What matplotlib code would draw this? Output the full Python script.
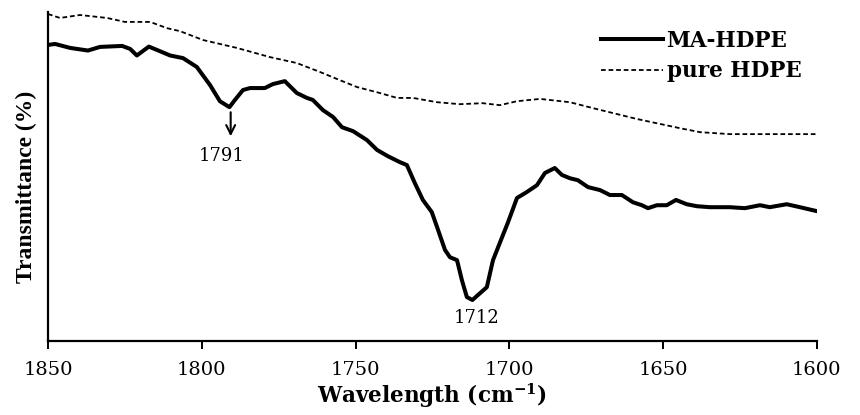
import matplotlib
matplotlib.use("Agg")
import matplotlib.pyplot as plt


# FTIR carbonyl region, wavenumber in cm-1, transmittance in arbitrary %
ma_hdpe_wn = [1850, 1847.7, 1842.8, 1837.0, 1833.1, 1825.9, 1823.3, 1821.1, 1817.2, 1813.6,
              1810.3, 1806.1, 1801.6, 1797.3, 1794.1, 1791.0, 1789.2, 1786.6, 1784.3, 1779.5,
              1776.9, 1773.0, 1769.1, 1765.8, 1763.9, 1760.6, 1757.3, 1754.4, 1750.8, 1746.3,
              1743.0, 1739.5, 1735.6, 1733.3, 1730.7, 1728.1, 1725.2, 1723.5, 1720.9, 1719.3,
              1717.0, 1715.4, 1713.8, 1712.0, 1710.2, 1707.3, 1705.3, 1703.1, 1700.5, 1697.5,
              1694.3, 1691.0, 1688.4, 1685.2, 1682.9, 1680.3, 1677.7, 1674.4, 1670.5, 1667.3,
              1663.4, 1659.8, 1656.9, 1654.9, 1652.0, 1648.8, 1645.8, 1642.3, 1639.0, 1634.8,
              1628.3, 1623.4, 1618.5, 1615.3, 1609.8, 1605.5, 1600.0]
ma_hdpe_t = [90.0, 90.3, 89.1, 88.3, 89.4, 89.7, 88.8, 86.8, 89.5, 88.1,
             86.8, 86.0, 83.3, 77.8, 72.9, 71.1, 73.3, 76.3, 76.9, 76.9,
             78.1, 79.0, 75.4, 73.9, 73.3, 70.2, 68.1, 65.0, 63.8, 61.1,
             58.1, 56.2, 54.4, 53.5, 48.0, 42.9, 39.2, 34.7, 27.7, 25.5,
             24.6, 18.5, 13.4, 12.5, 14.0, 16.4, 24.6, 29.8, 35.9, 43.5,
             45.3, 47.4, 51.1, 52.6, 50.5, 49.5, 48.9, 46.8, 45.9, 44.4,
             44.4, 42.2, 41.3, 40.4, 41.3, 41.3, 42.9, 41.6, 41.0, 40.7,
             40.7, 40.4, 41.3, 40.7, 41.6, 40.7, 39.5]

pure_hdpe_wn = [1850, 1846.1, 1839.6, 1830.8, 1825.0, 1816.8, 1811.3, 1807.1, 1799.6, 1788.6,
                1777.8, 1769.1, 1761.6, 1755.1, 1749.5, 1742.1, 1736.5, 1731.3, 1723.5, 1716.1,
                1708.6, 1703.1, 1697.5, 1690.0, 1680.3, 1672.8, 1666.3, 1658.5, 1651.0, 1644.5,
                1638.0, 1628.3, 1615.3, 1600.0]
pure_hdpe_t = [99.4, 98.2, 99.1, 98.2, 97.0, 97.0, 95.1, 94.2, 91.5, 89.1,
               86.3, 84.5, 81.8, 79.3, 77.2, 75.4, 73.9, 73.9, 72.6, 72.0,
               72.3, 71.7, 72.9, 73.6, 72.6, 70.8, 69.3, 67.5, 66.0, 64.7,
               63.5, 62.9, 62.9, 62.9]

peaks = [1791, 1712]
xticks = [1850, 1800, 1750, 1700, 1650, 1600]

fig = plt.figure(figsize=(8.6, 4.15), dpi=100)
ax = fig.add_axes([0.0558, 0.178, 0.894, 0.793])

ax.plot(ma_hdpe_wn, ma_hdpe_t, color="black", lw=2.9, label="MA-HDPE",
        solid_joinstyle="round")
ax.plot(pure_hdpe_wn, pure_hdpe_t, color="black", lw=1.3, ls=(0, (2.6, 1.6)),
        label="pure HDPE")

ax.set_xlim(1850, 1600)
ax.set_ylim(0, 100)
ax.set_xticks(xticks)
ax.set_yticks([])

for side in ("top", "right"):
    ax.spines[side].set_visible(False)
for side in ("left", "bottom"):
    ax.spines[side].set_linewidth(1.6)

ax.tick_params(axis="x", direction="out", length=6, width=1.4, pad=8,
               labelsize=14)
for lbl in ax.get_xticklabels():
    lbl.set_family("DejaVu Serif")

ax.set_xlabel("Wavelength (cm$^{\\mathregular{-1}}$)", family="DejaVu Serif",
              fontsize=15.5, fontweight="bold", labelpad=2)
ax.set_ylabel("Transmittance (%)", family="Liberation Serif", fontsize=17,
              fontweight="bold")
ax.yaxis.set_label_coords(-0.014, 0.47)

# peak markers
ax.annotate("", xy=(peaks[0] - 0.4, 61.4), xytext=(peaks[0] - 0.4, 70.4),
            arrowprops=dict(arrowstyle="->", lw=1.5, color="black",
                            mutation_scale=16))
ax.text(peaks[0] + 2.5, 56.2, str(peaks[0]), family="DejaVu Serif", fontsize=13,
        ha="center", va="center")
ax.text(peaks[1] - 1.3, 7.0, str(peaks[1]), family="DejaVu Serif", fontsize=13,
        ha="center", va="center")

leg = ax.legend(loc="upper right", bbox_to_anchor=(1.005, 1.005), frameon=False,
                handlelength=2.9, handletextpad=0.15, labelspacing=0.4,
                prop=dict(family="DejaVu Serif", size=15.5, weight="bold"))

fig.savefig("out.png", dpi=100)
